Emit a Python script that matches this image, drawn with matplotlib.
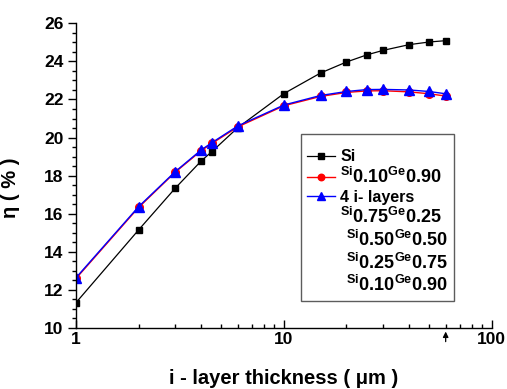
import matplotlib
matplotlib.use('Agg')
import matplotlib.pyplot as plt
from matplotlib.lines import Line2D

plt.rcParams['font.family'] = 'Liberation Sans'
plt.rcParams['font.weight'] = 'bold'
plt.rcParams['mathtext.fontset'] = 'custom'
plt.rcParams['mathtext.rm'] = 'Liberation Sans:bold'
plt.rcParams['mathtext.bf'] = 'Liberation Sans:bold'
plt.rcParams['mathtext.default'] = 'bf'

thickness = [1, 2, 3, 4, 4.5, 6, 10, 15, 20, 25, 30, 40, 50, 60]
eta_si = [11.33, 15.15, 17.34, 18.77, 19.26, 20.52, 22.31, 23.39, 23.97, 24.34, 24.58, 24.88, 25.02, 25.09]
eta_sige = [12.60, 16.33, 18.18, 19.31, 19.69, 20.56, 21.67, 22.16, 22.37, 22.45, 22.46, 22.40, 22.30, 22.18]
eta_4layers = [12.64, 16.37, 18.21, 19.35, 19.73, 20.61, 21.71, 22.21, 22.42, 22.52, 22.53, 22.50, 22.42, 22.30]
# Origin-style formula text: element raised & smaller, fractions at baseline
sige_label = r'$\mathregular{^{Si}0.10^{Ge}0.90}$'
extra_lines = [r'$\mathregular{^{Si}0.75^{Ge}0.25}$',
               r'$\mathregular{\ ^{Si}0.50^{Ge}0.50}$',
               r'$\mathregular{\ ^{Si}0.25^{Ge}0.75}$',
               r'$\mathregular{\ ^{Si}0.10^{Ge}0.90}$']

fig = plt.figure(figsize=(5.07, 3.89), dpi=100)
ax = fig.add_axes([0.150, 0.157, 0.820, 0.783])

ax.plot(thickness, eta_si, color='black', lw=0.9, marker='s', ms=5, label='Si')
ax.plot(thickness, eta_sige, color='red', lw=1.0, marker='o', ms=5.5, label=sige_label)
ax.plot(thickness, eta_4layers, color='blue', lw=1.0, marker='^', ms=6.5,
        label='4 i- layers')

ax.set_xscale('log')
ax.set_xlim(1, 100)
ax.set_ylim(10, 26)
ax.set_yticks(range(10, 27, 2))
ax.set_yticks([10 + 0.5 * i for i in range(33)], minor=True)
ax.set_xticks([1, 10, 100])
ax.set_xticklabels(['1', '10', '100'])

for s in ['top', 'right']:
    ax.spines[s].set_visible(False)
for s in ['left', 'bottom']:
    ax.spines[s].set_linewidth(1.0)

ax.tick_params(axis='y', which='major', direction='out', length=6, width=1, labelsize=12.5, pad=3)
ax.tick_params(axis='y', which='minor', direction='out', length=3, width=1)
ax.tick_params(axis='x', which='major', direction='in', length=6, width=1, labelsize=12.5, pad=3)
ax.tick_params(axis='x', which='minor', direction='in', length=3, width=1)

ax.set_xlabel('i - layer thickness ( μm )', fontsize=14.5, fontweight='bold', labelpad=16)
ax.set_ylabel('η ( % )', fontsize=14.5, fontweight='bold')
ax.yaxis.set_label_coords(-0.135, 0.46)

# small arrow marking 60 um
ax.annotate('', xy=(60, -0.012), xytext=(60, -0.045),
            xycoords=('data', 'axes fraction'), textcoords=('data', 'axes fraction'),
            arrowprops=dict(arrowstyle='-|>', color='black', lw=0.9,
                            mutation_scale=8, shrinkA=0, shrinkB=0),
            annotation_clip=False)

handles, labels = ax.get_legend_handles_labels()
for t in extra_lines:
    handles.append(Line2D([], [], linestyle='none', marker=None))
    labels.append(t)
leg = ax.legend(handles, labels, loc='upper left', bbox_to_anchor=(0.541, 0.636),
                fontsize=11.5, frameon=True, fancybox=False, edgecolor='#333333',
                handlelength=1.8, handletextpad=0.3, labelspacing=0.16,
                borderpad=0.35, borderaxespad=0, markerscale=0.85,
                title=' ', title_fontproperties={'size': 6})
leg.get_frame().set_linewidth(1.0)
# formula rows a bit larger so the fractions match the plain text height
for txt in leg.get_texts():
    if '^{Si}' in txt.get_text():
        txt.set_fontsize(13)

fig.savefig('out.png', dpi=100)
